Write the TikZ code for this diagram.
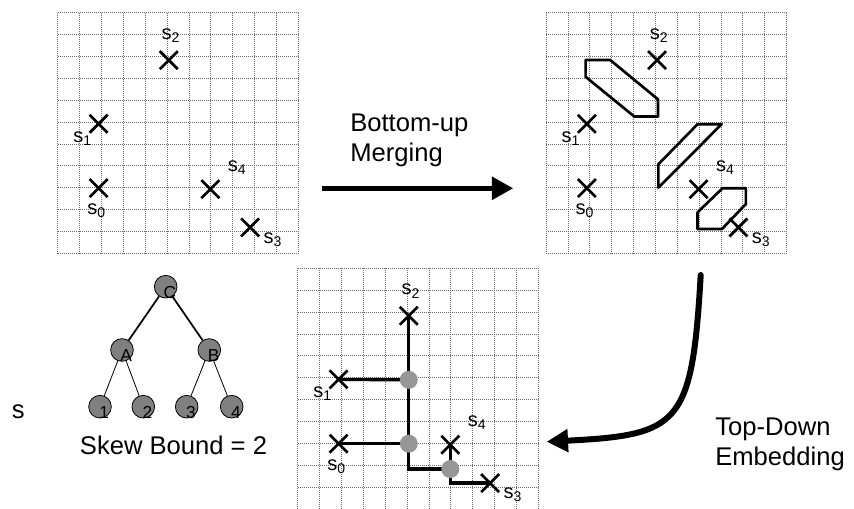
\documentclass[tikz,border=0pt]{standalone}
\usepackage{fontspec}
\setmainfont{Liberation Sans}
\usetikzlibrary{arrows.meta,positioning,shapes.misc}
\definecolor{ink}{RGB}{0,0,0}
\definecolor{gridgray}{RGB}{110,110,110}
\definecolor{nodegray}{RGB}{128,128,128}
\definecolor{dotgray}{RGB}{150,150,150}
\tikzset{
  >={Triangle[length=16pt,width=16.5pt]},
  gridline/.style={draw=gridgray,line width=0.5pt,dash pattern=on 0.6pt off 0.9pt},
  sink/.style={cross out,draw=ink,line width=2pt,minimum size=11.5pt,inner sep=0pt},
  sinklabel/.style={font=\fontsize{15}{17}\selectfont,inner sep=0pt},
  region/.style={draw=ink,line width=2pt,line join=round},
  route/.style={draw=ink,line width=2.5pt},
  merge/.style={circle,fill=dotgray,minimum size=13.5pt,inner sep=0pt},
  tnode/.style={circle,draw=ink,fill=nodegray,minimum size=17pt,inner sep=0pt,line width=0.6pt},
  tlabel/.style={font=\fontsize{13}{15}\selectfont,inner sep=0pt},
  caption/.style={font=\fontsize{19.2}{22}\selectfont,align=left,inner sep=0pt},
  flow/.style={->,line width=#1,draw=ink},
  flow/.default=4.2pt,
}
% one 11x11 panel: dotted grid, the five sinks and their names
\newcommand\sinkpanel[1]{%
  \foreach \i in {0,...,11}
    \draw[gridline] (\i,0) -- (\i,11) (0,\i) -- (11,\i);
  \node[sink] (#1s0) at (1.87,8.02) {};
  \node[sink] (#1s1) at (1.87,5.08) {};
  \node[sink] (#1s2) at (5.08,2.17) {};
  \node[sink] (#1s3) at (8.80,9.82) {};
  \node[sink] (#1s4) at (6.98,8.07) {};
  \node[sinklabel] (#1l0) at ([xshift=-1.5pt,yshift=-17pt]#1s0.center) {s\textsubscript{0}};
  \node[sinklabel] (#1l1) at ([xshift=-12pt,yshift=-11pt]#1s1.center) {s\textsubscript{1}};
  \node[sinklabel] (#1l2) at ([xshift=1.5pt,yshift=18.5pt]#1s2.center) {s\textsubscript{2}};
  \node[sinklabel] (#1l3) at ([xshift=17pt,yshift=-9pt]#1s3.center) {s\textsubscript{3}};
  \node[sinklabel] (#1l4) at ([xshift=20pt,yshift=16.5pt]#1s4.center) {s\textsubscript{4}};
}

\begin{document}
\begin{tikzpicture}[x=0.75pt,y=-0.75pt]
  \path[use as bounding box] (0,0) rectangle (854,508);

  % sinks
  \begin{scope}[shift={(57.7,12.7)},x=16.4pt,y=-16.4pt]
    \sinkpanel{tl}
  \end{scope}

  % merging regions
  \begin{scope}[shift={(546,12.7)},x=16.4pt,y=-16.4pt]
    \sinkpanel{tr}
    \draw[region] (1.81,2.16) -- (2.93,2.16) -- (5.12,3.96) -- (5.12,4.75) -- (4.04,4.75) -- (1.81,2.93) -- cycle;
    \draw[region] (5.14,6.93) -- (6.93,5.10) -- (8.03,5.10) -- (5.14,8.00) -- cycle;
    \draw[region] (8.07,8.03) -- (9.14,8.03) -- (9.14,8.75) -- (8.05,9.89) -- (6.93,9.89) -- (6.93,9.13) -- cycle;
  \end{scope}

  % embedded tree
  \begin{scope}[shift={(297.7,268.3)},x=16.4pt,y=-16.4pt]
    \sinkpanel{bt}
    \coordinate (j1) at (5.08,5.10);
    \coordinate (j2) at (5.08,8.02);
    \coordinate (j3) at (6.98,9.18);
    \draw[route] (bts2.center) |- (j3);
    \draw[route] (bts1.center) -- (j1);
    \draw[route] (bts0.center) -- (j2);
    \draw[route] (bts4.center) -- (j3) |- (bts3.center);
    \node[merge] (m1) at (j1) {};
    \node[merge] (m2) at (j2) {};
    \node[merge] (m3) at (j3) {};
  \end{scope}

  % topology
  \node[tnode,label={[tlabel,xshift=3.2pt,yshift=-4pt]center:C}] (C) at (165.7,286.7) {};
  \node[tnode,label={[tlabel,xshift=3.2pt,yshift=-4pt]center:A}] (A) at (122,350) {};
  \node[tnode,label={[tlabel,xshift=3.2pt,yshift=-4pt]center:B}] (B) at (209.3,350) {};
  \node[tnode,label={[tlabel,xshift=3.2pt,yshift=-4pt]center:1}] (n1) at (100,406.7) {};
  \node[tnode,label={[tlabel,xshift=3.2pt,yshift=-4pt]center:2}] (n2) at (143.3,406.7) {};
  \node[tnode,label={[tlabel,xshift=3.2pt,yshift=-4pt]center:3}] (n3) at (186.7,406.7) {};
  \node[tnode,label={[tlabel,xshift=3.2pt,yshift=-4pt]center:4}] (n4) at (231.7,406.7) {};
  \draw[line width=1.3pt] (C) -- (A) (C) -- (B);
  \draw[line width=0.6pt] (A) -- (n1) (A) -- (n2) (B) -- (n3) (B) -- (n4);
  \node[caption] (s) at (18.3,411.7) {s};
  \node[caption] (skew) at (173.5,445) {Skew Bound = 2};

  % steps
  \node[caption,anchor=north west] (bu) at (350,114) {Bottom-up\\Merging};
  \coordinate (bu-tail) at (321.7,188.3);
  \coordinate (bu-head) at (513.3,188.3);
  \draw[flow] (bu-tail) -- (bu-head);
  \node[caption,anchor=north west] (td) at (715,418) {Top-Down\\Embedding};
  \coordinate (td-tail) at (700.7,275);
  \coordinate (td-head) at (546.7,441.7);
  \draw[flow=4.5pt,line cap=round] (td-tail) .. controls (692,425) and (680,435) .. (td-head);
\end{tikzpicture}
\end{document}
